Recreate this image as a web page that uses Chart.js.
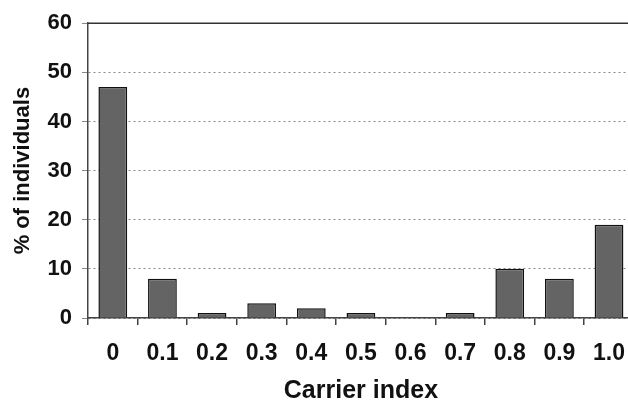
<!DOCTYPE html>
<html>
<head>
<meta charset="utf-8">
<script src="https://cdn.jsdelivr.net/npm/chart.js@4"></script>
<style>
  html, body { margin: 0; padding: 0; background: #fff; overflow: hidden; }
  #wrap { width: 640px; height: 404px; }
</style>
</head>
<body>
<div id="wrap"><canvas id="chart" width="640" height="404"></canvas></div>
<script>
const categories = ['0', '0.1', '0.2', '0.3', '0.4', '0.5', '0.6', '0.7', '0.8', '0.9', '1.0'];
const percentIndividuals = [47, 8, 1, 3, 2, 1, 0, 1, 10, 8, 19];
const yTicks = [0, 10, 20, 30, 40, 50, 60];

// solid line along the top of the plot at 60
const topLine = {
  id: 'topLine',
  afterDraw(chart) {
    const { ctx, chartArea } = chart;
    ctx.save();
    ctx.strokeStyle = '#333';
    ctx.lineWidth = 1.5;
    ctx.beginPath();
    ctx.moveTo(chartArea.left, chartArea.top);
    ctx.lineTo(chartArea.right, chartArea.top);
    ctx.stroke();
    ctx.restore();
  },
};

Chart.defaults.font.family = '"Liberation Sans", Arial, sans-serif';
Chart.defaults.color = '#111';

new Chart(document.getElementById('chart'), {
  type: 'bar',
  data: {
    labels: categories,
    datasets: [
      {
        data: percentIndividuals,
        backgroundColor: '#646464',
        borderColor: '#111',
        borderWidth: 1.5,
        categoryPercentage: 1,
        barPercentage: 0.58,
      },
    ],
  },
  options: {
    responsive: false,
    animation: false,
    layout: { padding: { top: 21, left: 0, right: 0, bottom: 0 } },
    plugins: { legend: { display: false }, tooltip: { enabled: false } },
    scales: {
      x: {
        offset: true,
        grid: { offset: true, drawOnChartArea: false, color: '#444', tickLength: 7, lineWidth: 1.5 },
        border: { color: '#444', width: 1.5 },
        ticks: { font: { size: 23, weight: 'bold' }, padding: 15, maxRotation: 0 },
        title: { display: true, text: 'Carrier index', font: { size: 25, weight: 'bold' }, padding: { top: 6, bottom: -2 } },
        afterFit(scale) { scale.height = 86; },
      },
      y: {
        min: 0,
        max: 60,
        afterBuildTicks(scale) { scale.ticks = yTicks.map((v) => ({ value: v })); },
        grid: { color: '#888', tickLength: 6, lineWidth: 1 },
        border: { color: '#444', width: 1.5, dash: [2, 3] },
        ticks: { font: { size: 22, weight: 'bold' }, padding: 10 },
        title: { display: true, text: '% of individuals', font: { size: 22, weight: 'bold' }, padding: { top: 10, bottom: 4 } },
        afterFit(scale) { scale.width = 88; },
      },
    },
  },
  plugins: [topLine],
});
</script>
</body>
</html>
